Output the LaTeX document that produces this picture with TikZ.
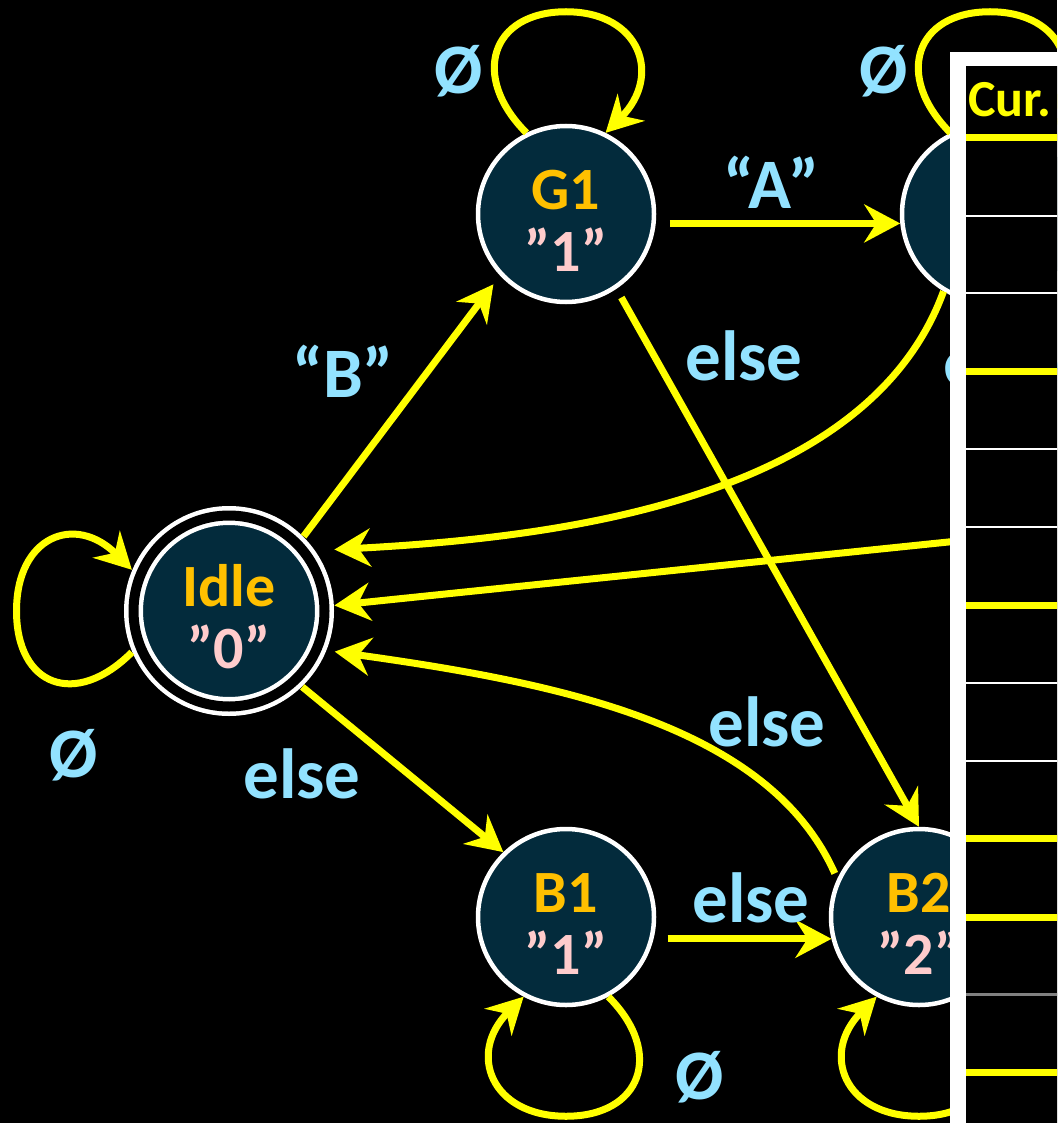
\documentclass[tikz,border=0pt]{standalone}
\usepackage{fontspec}
\setmainfont{Carlito}
\usetikzlibrary{arrows.meta}
\definecolor{stbg}{RGB}{3,43,60}
\definecolor{stname}{RGB}{255,192,0}
\definecolor{stout}{RGB}{255,204,204}
\definecolor{lblue}{RGB}{146,226,255}
\definecolor{ylw}{RGB}{255,255,0}

\begin{document}
\begin{tikzpicture}[
  x=1pt,y=1pt,
  font=\bfseries,
  state/.style={circle,draw=white,line width=4.5pt,fill=stbg,minimum size=176pt,inner sep=0pt,
    align=center,text=stname,font=\bfseries\fontsize{60}{62}\selectfont,text height=114pt,text depth=0pt},
  accept/.style={state,double=black,double distance=10pt,minimum size=191pt,outer sep=10pt},
  edge/.style={draw=ylw,line width=7pt,->},
  lbl/.style={text=lblue,font=\bfseries\fontsize{71}{80}\selectfont,inner sep=0pt},
  near/.style={out distance=80pt,in distance=75pt},
  far/.style={out distance=75pt,in distance=80pt},
  >={Stealth[length=36pt,width=38pt,inset=12pt]}
]
\useasboundingbox (0,0) rectangle (1057,-1123);
\fill[black] (0,0) rectangle (1057,-1123);
\clip (0,0) rectangle (1057,-1123);
% ---- states ----
\node[accept] (idle) at (229,-611) {Idle\\\textcolor{stout}{”0”}};
\node[state] (g1) at (566,-214) {G1\\\textcolor{stout}{”1”}};
\node[state] (g2) at (990,-214) {};
\node[state] (b1) at (566,-917) {B1\\\textcolor{stout}{”1”}};
\node[state] (b2) at (919,-917) {B2\\\textcolor{stout}{”2”}};
\coordinate (offr) at (1045,-532);
% ---- transitions ----
\draw[edge,shorten >=11pt] (idle.45) -- (g1.223);
\draw[edge,shorten <=14pt] (g1.-6) -- (g2.186);
\draw[edge,shorten <=10pt] (g1.-56) -- (b2.90);
\draw[edge,shorten >=19pt] (g2.239) to[out=250,in=3,out distance=220pt,in distance=250pt] (idle.35);
\draw[edge] (offr) -- (idle.3);
\draw[edge,shorten <=6pt,shorten >=8pt] (b2.155) to[out=114,in=-8,out distance=170pt,in distance=230pt] (idle.-22);
\draw[edge] (idle.-46) -- (b1.134);
\draw[edge,shorten <=14pt] (b1.-14) -- (b2.194);
% ---- self loops ----
\draw[edge] (g1.116) to[out=135,in=180,near] ([yshift=112pt]g1.north) to[out=0,in=45,far] (g1.64);
\draw[edge] (g2.116) to[out=135,in=180,near] ([yshift=112pt]g2.north) to[out=0,in=45,far] (g2.64);
\draw[edge] (idle.-157) to[out=225,in=-90,near] ([xshift=-107pt]idle.west) to[out=90,in=135,far] (idle.157);
\draw[edge] (b1.-62) to[out=-45,in=0,near] ([yshift=-109pt]b1.south) to[out=180,in=225,far] (b1.-118);
\draw[edge] (b2.-62) to[out=-45,in=0,near] ([yshift=-109pt]b2.south) to[out=180,in=225,far] (b2.-118);
% ---- labels ----
\node[lbl] (lB) at (343,-371) {“B”};
\node[lbl] (lA) at (771,-182) {“A”};
\node[lbl] (lg1b2) at (744,-356) {else};
\node[lbl] (lg2) at (1002,-362) {else};
\node[lbl] (lb2) at (767,-722) {else};
\node[lbl] (lb1) at (751,-898) {else};
\node[lbl] (lidle) at (302,-774) {else};
\node[lbl] (ng1) at (459,-71) {Ø};
\node[lbl] (ng2) at (884,-71) {Ø};
\node[lbl] (nidle) at (74,-755) {Ø};
\node[lbl] (nb1) at (700,-1077) {Ø};
% ---- table ----
\fill[white] (950,-52) rectangle (1070,-1130);
\fill[black] (966,-66) rectangle (1070,-1130);
\node[anchor=base west,text=ylw,font=\bfseries\fontsize{52}{60}\selectfont,inner sep=0pt] (hdr) at (968,-117) {Cur.};
\draw[ylw,line width=7pt] (966,-138) -- (1070,-138) (966,-371) -- (1070,-371) (966,-605) -- (1070,-605)
  (966,-838) -- (1070,-838) (966,-917) -- (1070,-917) (966,-1072) -- (1070,-1072);
\draw[white,line width=2.5pt] (966,-216) -- (1070,-216) (966,-293) -- (1070,-293) (966,-449) -- (1070,-449)
  (966,-527) -- (1070,-527) (966,-683) -- (1070,-683) (966,-761) -- (1070,-761);
\draw[gray,line width=3pt] (966,-994) -- (1070,-994);
\end{tikzpicture}
\end{document}
